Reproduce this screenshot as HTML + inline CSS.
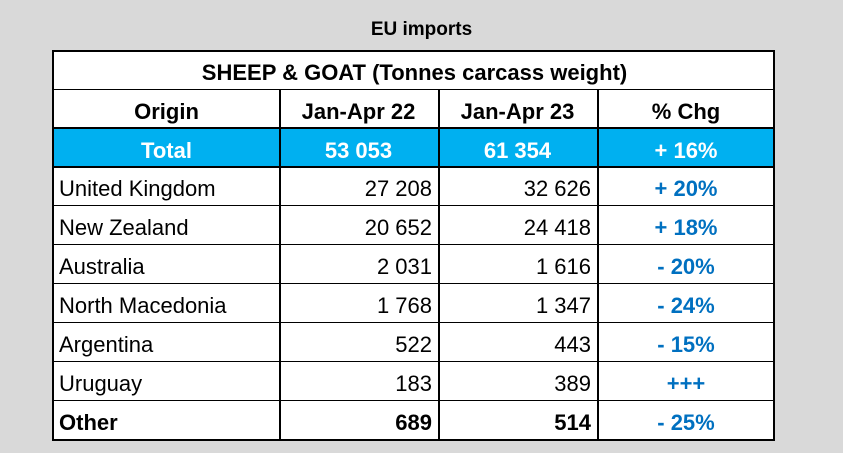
<!DOCTYPE html>
<html><head><meta charset="utf-8"><style>
body{margin:0;width:843px;height:453px;background:#d9d9d9;font-family:"Liberation Sans",Arial,sans-serif;position:relative;overflow:hidden}
#cap{position:absolute;left:0;width:843px;top:19px;text-align:center;font-weight:bold;font-size:19px;color:#000}
#tbl{position:absolute;left:52px;top:50px;width:723px;height:391px;background:#fff;border:2px solid #000;box-sizing:border-box}
.c{position:absolute;font-size:22px;line-height:39px;height:39px;box-sizing:border-box;white-space:nowrap}
.hl{position:absolute;background:#000}
</style></head><body>
<div id="cap">EU imports</div>
<div id="tbl"></div>
<script>
const origins=["United Kingdom","New Zealand","Australia","North Macedonia","Argentina","Uruguay","Other"];
const jan22=["27 208","20 652","2 031","1 768","522","183","689"];
const jan23=["32 626","24 418","1 616","1 347","443","389","514"];
const chg=["+ 20%","+ 18%","- 20%","- 24%","- 15%","+++","- 25%"];
const headers=["Origin","Jan-Apr 22","Jan-Apr 23","% Chg"];
const totalRow=["Total","53 053","61 354","+ 16%"];
const t=document.getElementById('tbl');
const cols=[0,225,384,543,721];
const rowTop=i=>37+i*39;
function cell(txt,x0,x1,y,opts){
  const d=document.createElement('div');d.className='c';
  
  
  d.style.left=x0+'px';d.style.width=(x1-x0)+'px';d.style.top=y+'px';
  d.style.textAlign=opts.align;
  d.style.padding=opts.align==='right'?'0 6px 0 0':(opts.align==='left'?'0 0 0 5px':'0');
  if(opts.bold)d.style.fontWeight='bold';
  d.style.color=opts.color||'#000';
  d.textContent=txt;t.appendChild(d);
}
function line(x,y,w,h,n){const d=document.createElement('div');d.className='hl';


d.style.left=x+'px';d.style.top=y+'px';d.style.width=w+'px';d.style.height=h+'px';t.appendChild(d);}
cell("SHEEP & GOAT (Tonnes carcass weight)",0,721,1,{name:'table-title',align:'center',bold:true});
const band=document.createElement('div');


band.style.cssText='position:absolute;left:0;width:719px;top:77px;height:39px;background:#00b0f0';t.appendChild(band);
headers.forEach((h,j)=>cell(h,cols[j],cols[j+1],rowTop(0)+3,{name:'header-'+j,align:'center',bold:true}));
totalRow.forEach((h,j)=>cell(h,cols[j],cols[j+1],rowTop(1)+3,{name:'total-'+j,align:'center',bold:true,color:'#fff'}));
origins.forEach((o,i)=>{
  const y=rowTop(i+2)+2,b=i===origins.length-1;
  cell(o,cols[0],cols[1],y,{name:'origin-'+i,align:'left',bold:b});
  cell(jan22[i],cols[1],cols[2],y,{name:'jan22-'+i,align:'right',bold:b});
  cell(jan23[i],cols[2],cols[3],y,{name:'jan23-'+i,align:'right',bold:b});
  cell(chg[i],cols[3],cols[4],y,{name:'chg-'+i,align:'center',bold:true,color:'#0070c0'});
});
line(0,37,721,1,'title-divider');
for(let i=1;i<=origins.length+1;i++)line(0,rowTop(i)-1,721,i<=2?2:1,'row-line');
for(let j=1;j<4;j++)line(cols[j],37,2,352,'col-line');
</script>
</body></html>
